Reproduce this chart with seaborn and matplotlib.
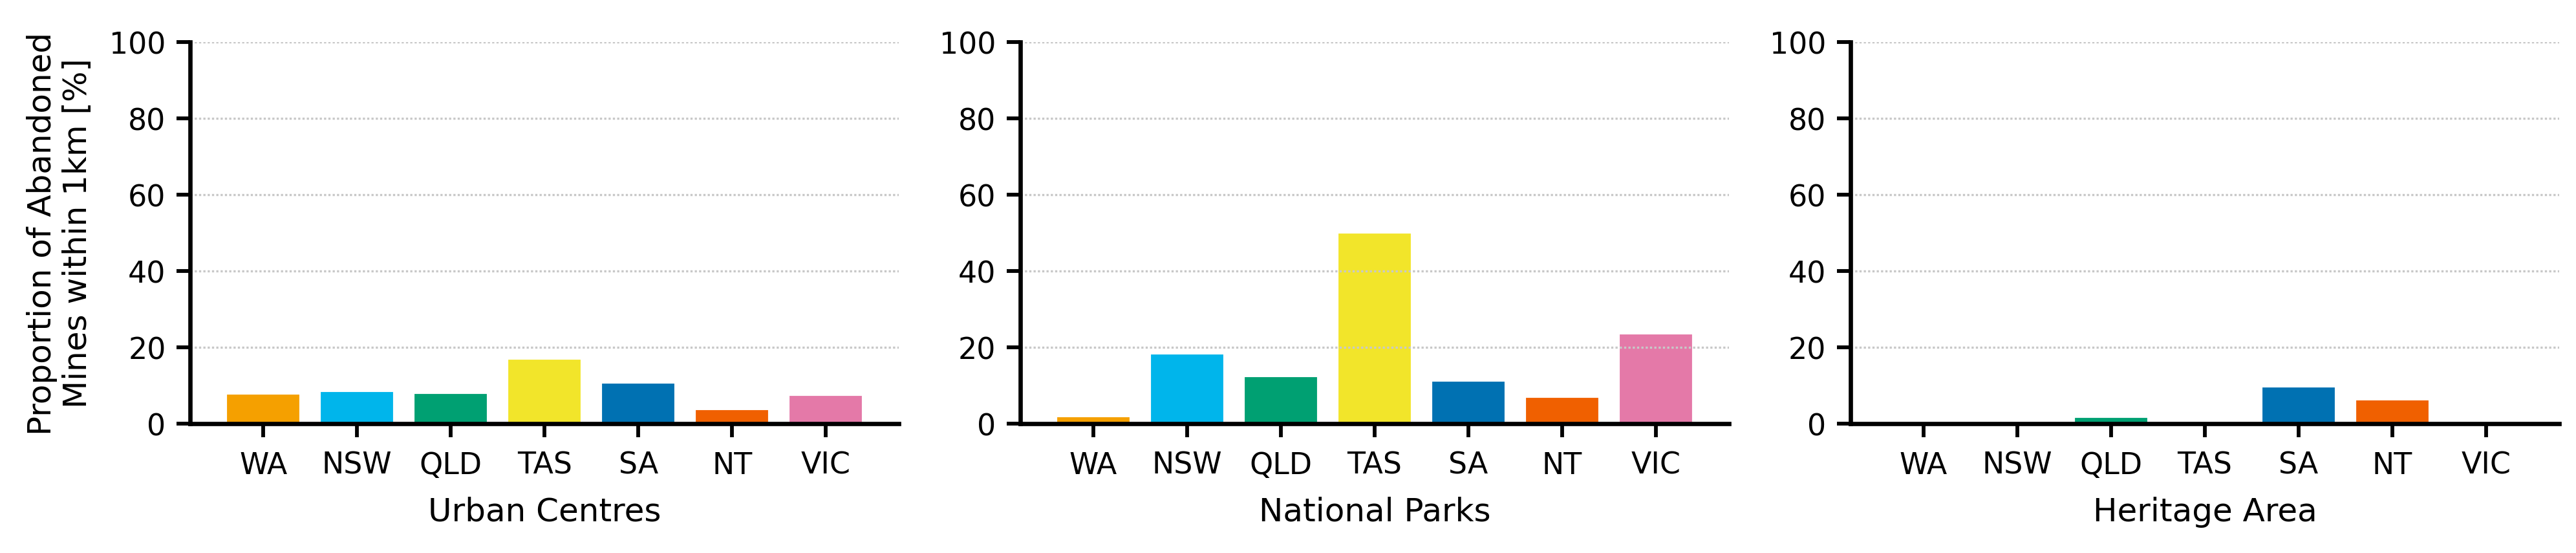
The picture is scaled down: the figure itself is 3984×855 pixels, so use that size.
import matplotlib
matplotlib.use("Agg")
import matplotlib.pyplot as plt
import seaborn as sns
import pandas as pd

states = ["WA", "NSW", "QLD", "TAS", "SA", "NT", "VIC"]
urban_centres = [7.9, 8.6, 8.2, 17.2, 10.9, 3.9, 7.6]
national_parks = [2.1, 18.5, 12.6, 50.1, 11.4, 7.2, 23.8]
heritage_area = [0.0, 0.0, 1.8, 0.0, 9.8, 6.4, 0.0]
panel_titles = ["Urban Centres", "National Parks", "Heritage Area"]
colors = ["#F5A000", "#00B5EB", "#00A072", "#F2E52A", "#0071B2", "#F06000", "#E479A8"]
y_label = "Proportion of Abandoned\nMines within 1km [%]"

sns.set_theme(style="ticks")
plt.rcParams["font.family"] = ["DejaVu Sans"]
plt.rcParams["font.size"] = 11

fig, axes = plt.subplots(1, 3, figsize=(13.28, 2.8533), dpi=300)
fig.subplots_adjust(left=0.0738, right=0.9935, bottom=0.2336, top=0.9229, wspace=0.171)

palette = dict(zip(states, colors))
for ax, vals, title in zip(axes, [urban_centres, national_parks, heritage_area], panel_titles):
    df = pd.DataFrame({"state": states, "value": vals})
    sns.barplot(data=df, x="state", y="value", hue="state", order=states,
                palette=palette, legend=False, width=0.8, saturation=1,
                ax=ax, zorder=1)
    ax.set_ylim(0, 100)
    ax.set_xlim(-0.78, 6.78)
    ax.set_yticks([0, 20, 40, 60, 80, 100])
    ax.yaxis.grid(True, linestyle=(0, (1, 1)), color="#c8c8c8", linewidth=0.8, zorder=3)
    ax.set_axisbelow(False)
    for s in ["top", "right"]:
        ax.spines[s].set_visible(False)
    for s in ["left", "bottom"]:
        ax.spines[s].set_linewidth(1.6)
        ax.spines[s].set_color("black")
        ax.spines[s].set_zorder(4)
    ax.tick_params(axis="both", length=5, width=1.4, color="black", labelsize=11,
                   labelcolor="black", pad=4)
    ax.tick_params(axis="x", pad=5)
    ax.set_xlabel(title, fontsize=12, color="black", labelpad=6)
    ax.set_ylabel("")

axes[0].set_ylabel(y_label, fontsize=12, color="black", labelpad=6)

fig.savefig("out.png", dpi=300, facecolor="white")
